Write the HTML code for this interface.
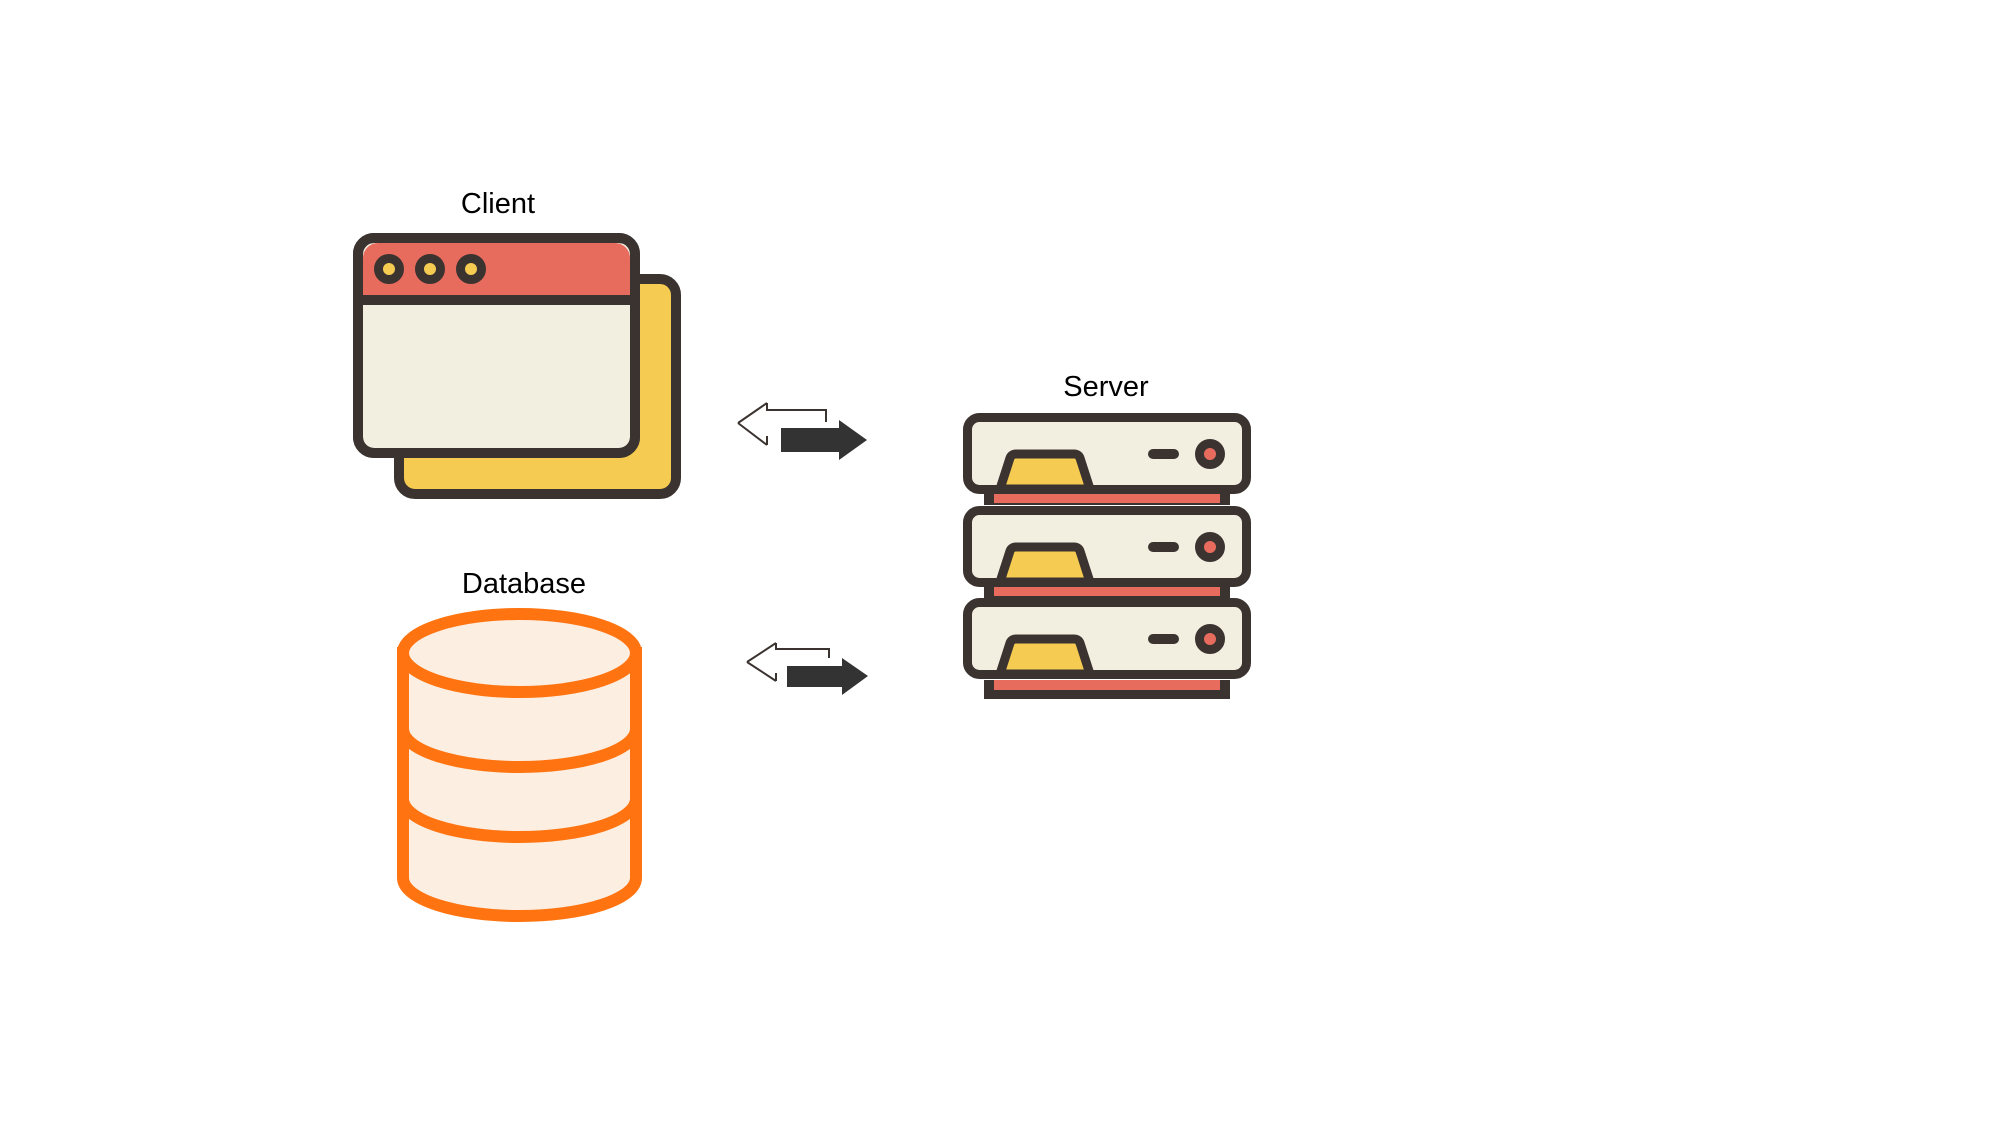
<!DOCTYPE html>
<html><head><meta charset="utf-8"><style>
html,body{margin:0;padding:0;background:#fff;}
svg{display:block}
text{font-family:"Liberation Sans",sans-serif;font-size:29px;fill:#000;}
</style></head><body>
<svg width="2000" height="1125" viewBox="0 0 2000 1125" xmlns="http://www.w3.org/2000/svg">
<text x="498" y="213" text-anchor="middle">Client</text>
<text x="1106" y="396" text-anchor="middle">Server</text>
<text x="524" y="593" text-anchor="middle">Database</text>

<!-- Client -->
<rect x="399" y="279" width="277" height="215" rx="16" fill="#F5CB52" stroke="#3b3330" stroke-width="10"/>
<rect x="358" y="238" width="277" height="215" rx="16" fill="#F3EFE0" stroke="#3b3330" stroke-width="10"/>
<path d="M363 300 V258 a15 15 0 0 1 15 -15 H615 a15 15 0 0 1 15 15 V300 Z" fill="#E86C5E"/>
<line x1="358" y1="300" x2="635" y2="300" stroke="#3b3330" stroke-width="10"/>
<rect x="358" y="238" width="277" height="215" rx="16" fill="none" stroke="#3b3330" stroke-width="10"/>
<g fill="#F5CB52" stroke="#3b3330" stroke-width="9">
<circle cx="389" cy="269" r="10.5"/><circle cx="430" cy="269" r="10.5"/><circle cx="471" cy="269" r="10.5"/>
</g>

<!-- Arrows -->
<path d="M767 445 V436 M767 403 V410 H826 V422 M738 423 L767 403 M738 423 L767 445" fill="none" stroke="#3b3330" stroke-width="2"/>
<path d="M781 428 H839 V420 L867 440 L839 460 V452 H781 Z" fill="#333"/>

<path d="M776 681 V673 M776 643 V649 H829 V658 M747 662 L776 643 M747 662 L776 681" fill="none" stroke="#3b3330" stroke-width="2"/>
<path d="M787 666 H842 V658 L868 676 L842 695 V687 H787 Z" fill="#333"/>

<!-- Server -->
<g id="u">
<rect x="984" y="490" width="246" height="15" fill="#3b3330"/>
<rect x="994" y="494" width="226" height="9" fill="#E86C5E"/>
<rect x="967.5" y="417.5" width="279" height="72" rx="12" fill="#F3EFE0" stroke="#3b3330" stroke-width="9"/>
<path d="M1000 489 L1010 458 a6 6 0 0 1 6 -4 H1074 a6 6 0 0 1 6 4 L1090 489 Z" fill="#F5CB52" stroke="#3b3330" stroke-width="9" stroke-linejoin="round"/>
<line x1="1153" y1="454" x2="1174" y2="454" stroke="#3b3330" stroke-width="10" stroke-linecap="round"/>
<circle cx="1210" cy="454" r="10.5" fill="#E86C5E" stroke="#3b3330" stroke-width="9"/>
</g>
<use href="#u" transform="translate(0,93)"/>
<rect x="984" y="680" width="246" height="19" fill="#3b3330"/>
<rect x="994" y="680" width="226" height="10" fill="#E86C5E"/>
<rect x="967.5" y="602.5" width="279" height="72" rx="12" fill="#F3EFE0" stroke="#3b3330" stroke-width="9"/>
<path d="M1000 674 L1010 643 a6 6 0 0 1 6 -4 H1074 a6 6 0 0 1 6 4 L1090 674 Z" fill="#F5CB52" stroke="#3b3330" stroke-width="9" stroke-linejoin="round"/>
<line x1="1153" y1="639" x2="1174" y2="639" stroke="#3b3330" stroke-width="10" stroke-linecap="round"/>
<circle cx="1210" cy="639" r="10.5" fill="#E86C5E" stroke="#3b3330" stroke-width="9"/>

<!-- Database -->
<g stroke="#FF7410" stroke-width="12" fill="#FDEEE2">
<path d="M403 653 V878 A116.5 38 0 0 0 636 878 V653 Z"/>
<path d="M403 729 A116.5 38 0 0 0 636 729" fill="none"/>
<path d="M403 799 A116.5 38 0 0 0 636 799" fill="none"/>
<ellipse cx="519.5" cy="653" rx="116.5" ry="39"/>
</g>
</svg>
</body></html>
